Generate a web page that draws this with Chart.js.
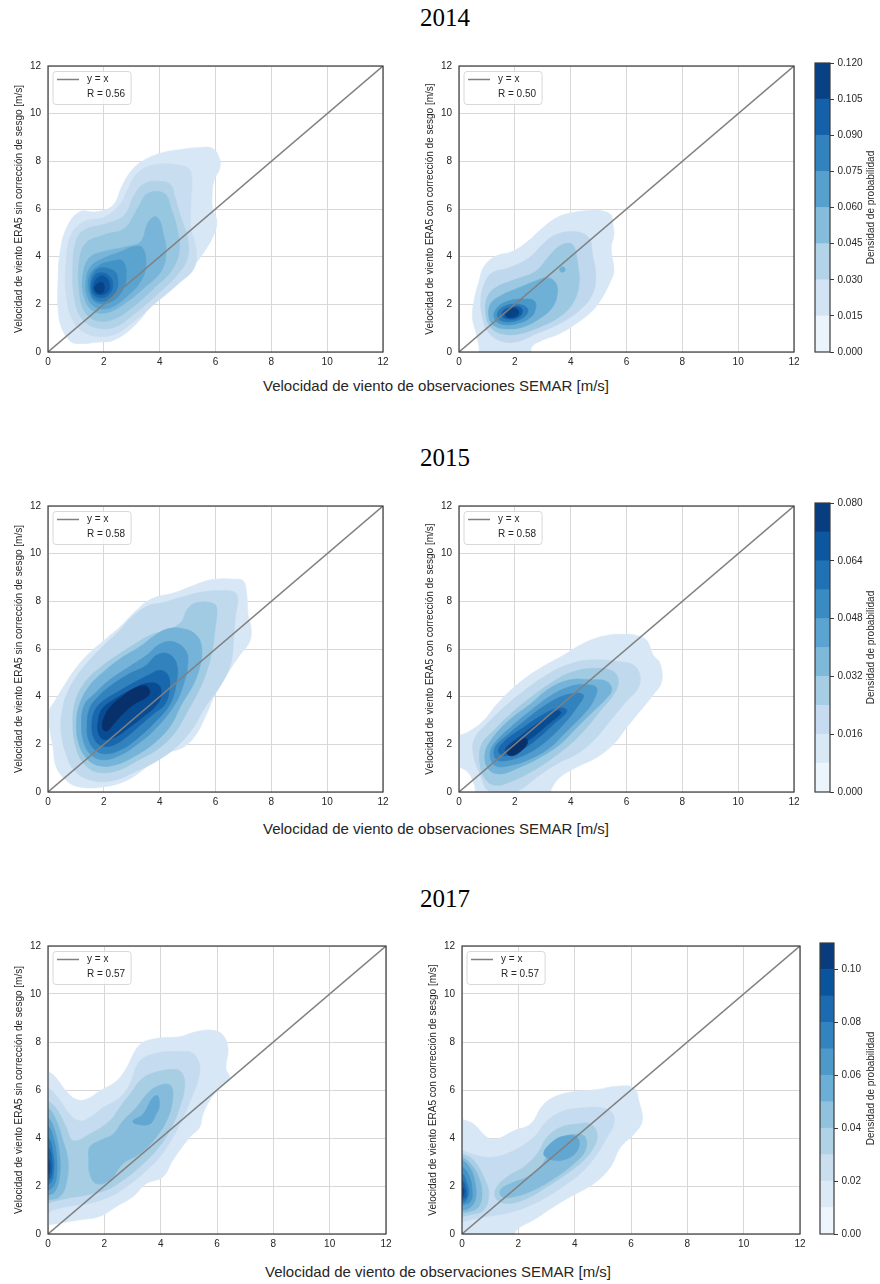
<!DOCTYPE html>
<html>
<head>
<meta charset="utf-8">
<script src="https://cdn.jsdelivr.net/npm/chart.js@4.4.1/dist/chart.umd.min.js"></script>
<style>
  html, body { margin: 0; padding: 0; background: #fff; }
  body { position: relative; width: 880px; height: 1284px; overflow: hidden; }
  canvas { position: absolute; }
  .sup { position: absolute; font-family: 'Liberation Serif', 'DejaVu Serif', serif; font-size: 25px; color: #000;
         transform: translate(-50%, -50%); white-space: nowrap; }
  .xlab { position: absolute; font-family: 'Liberation Sans', Arial, sans-serif; font-size: 15px; color: #262626;
          transform: translate(-50%, -50%); white-space: nowrap; }
</style>
</head>
<body>
<script>
// ---------------- data ----------------
const years = ['2014', '2015', '2017'];
const rSinCorreccion = [0.56, 0.58, 0.57];
const rConCorreccion = [0.50, 0.58, 0.57];

const axisTicks = [0, 2, 4, 6, 8, 10, 12];
const diagX = [0, 12];
const diagY = [0, 12];

const xAxisTitle = 'Velocidad de viento de observaciones SEMAR [m/s]';
const yTitleSin = 'Velocidad de viento ERA5 sin corrección de sesgo [m/s]';
const yTitleCon = 'Velocidad de viento ERA5 con corrección de sesgo [m/s]';
const cbarTitle = 'Densidad de probabilidad';

// colour-bar band edges and tick labels, one set per year
const cbarEdges2014 = [0, 0.015, 0.030, 0.045, 0.060, 0.075, 0.090, 0.105, 0.120];
const cbarTicks2014 = [0, 0.015, 0.030, 0.045, 0.060, 0.075, 0.090, 0.105, 0.120];
const cbarLabels2014 = ['0.000', '0.015', '0.030', '0.045', '0.060', '0.075', '0.090', '0.105', '0.120'];
const cbarEdges2015 = [0, 0.008, 0.016, 0.024, 0.032, 0.040, 0.048, 0.056, 0.064, 0.072, 0.080];
const cbarTicks2015 = [0, 0.016, 0.032, 0.048, 0.064, 0.080];
const cbarLabels2015 = ['0.000', '0.016', '0.032', '0.048', '0.064', '0.080'];
const cbarEdges2017 = [0, 0.01, 0.02, 0.03, 0.04, 0.05, 0.06, 0.07, 0.08, 0.09, 0.10, 0.11];
const cbarTicks2017 = [0, 0.02, 0.04, 0.06, 0.08, 0.10];
const cbarLabels2017 = ['0.00', '0.02', '0.04', '0.06', '0.08', '0.10'];

// KDE filled-contour rings: [level, [[x, y], ...]] in m/s
const kde2014Sin = [
  [1, [[1.01,0.35],[1.85,0.42],[2.33,0.48],[3.04,1.04],[3.76,2.0],[4.6,2.98],[5.2,3.6],[5.65,4.3],[5.95,4.95],[6.05,5.5],[5.9,6.0],[5.88,6.6],[5.95,7.2],[6.15,7.7],[6.15,8.1],[5.9,8.54],[5.43,8.58],[4.84,8.51],[4.12,8.37],[3.52,8.1],[3.04,7.68],[2.66,6.99],[2.33,6.16],[1.73,5.88],[1.13,5.88],[0.66,5.19],[0.42,4.08],[0.36,2.98],[0.36,1.87],[0.48,1.04],[0.78,0.48]]],
  [2, [[3.2,7.5],[2.85,6.8],[2.55,6.15],[2.0,5.65],[1.3,5.47],[0.83,4.92],[0.65,3.81],[0.65,2.42],[0.89,1.32],[1.42,0.76],[2.26,0.69],[2.97,1.18],[3.81,2.01],[4.65,2.84],[5.24,3.53],[5.3,4.36],[5.12,5.19],[5.12,6.3],[5.12,7.55],[4.77,7.82],[3.8,7.85]]],
  [3, [[3.45,7.06],[3.09,6.58],[2.74,5.75],[2.14,5.4],[1.3,5.12],[1.0,4.64],[0.89,3.53],[0.94,2.29],[1.18,1.46],[1.66,1.04],[2.38,1.04],[3.09,1.6],[3.93,2.43],[4.65,3.26],[5.0,3.95],[5.0,4.78],[4.77,5.61],[4.53,6.58],[4.41,6.99],[4.05,7.16]]],
  [4, [[3.57,6.65],[3.21,6.02],[2.74,5.19],[2.02,4.92],[1.36,4.57],[1.12,3.81],[1.12,2.56],[1.3,1.73],[1.72,1.32],[2.38,1.39],[3.09,1.94],[3.81,2.7],[4.41,3.39],[4.7,4.22],[4.65,5.05],[4.41,6.02],[4.17,6.65]]],
  [5, [[3.81,5.68],[3.57,5.4],[3.33,4.64],[2.85,4.43],[2.02,4.22],[1.48,3.95],[1.24,3.12],[1.3,2.29],[1.6,1.73],[2.14,1.66],[2.8,2.08],[3.45,2.7],[4.05,3.39],[4.23,4.22],[4.11,5.05],[3.99,5.54]]],
  [6, [[3.39,4.36],[3.09,4.43],[2.62,4.22],[2.02,3.95],[1.54,3.6],[1.36,2.98],[1.42,2.29],[1.72,1.87],[2.26,1.87],[2.85,2.36],[3.33,2.98],[3.51,3.67]]],
  [7, [[2.68,3.81],[2.26,3.81],[1.78,3.6],[1.48,3.19],[1.48,2.49],[1.72,2.08],[2.2,2.08],[2.62,2.49],[2.8,3.12]]],
  [8, [[2.38,3.39],[1.9,3.53],[1.6,3.25],[1.52,2.7],[1.66,2.22],[2.08,2.15],[2.44,2.56],[2.5,3.05]]],
  [9, [[1.84,3.32],[1.6,3.05],[1.56,2.56],[1.78,2.29],[2.14,2.36],[2.32,2.77],[2.2,3.19]]],
  [10, [[1.9,3.19],[1.66,2.91],[1.68,2.49],[1.96,2.4],[2.2,2.63],[2.14,3.05]]],
  [11, [[1.84,2.91],[1.66,2.7],[1.76,2.49],[1.96,2.49],[2.02,2.73],[1.96,2.91]]]
];

const kde2014Con = [
  [1, [[5.45,5.75],[5.2,5.9],[4.78,5.95],[3.94,5.82],[3.46,5.61],[2.98,5.19],[2.39,4.57],[1.91,4.22],[1.31,4.02],[0.9,3.6],[0.72,2.98],[0.54,2.15],[0.48,1.46],[0.62,0.76],[0.72,0.2],[0.75,-0.3],[2.55,-0.3],[2.6,0.2],[2.98,0.49],[3.58,0.76],[4.18,1.18],[4.78,1.73],[5.13,2.29],[5.4,2.9],[5.55,3.4],[5.45,4.36],[5.55,4.92],[5.5,5.45]]],
  [2, [[4.18,5.05],[3.46,4.92],[2.98,4.5],[2.51,3.95],[1.79,3.53],[1.19,3.32],[0.9,2.84],[0.78,2.15],[0.84,1.46],[1.01,0.9],[1.43,0.49],[2.03,0.42],[2.75,0.76],[3.58,1.18],[4.3,1.73],[4.78,2.42],[4.9,3.25],[4.78,4.09],[4.66,4.78]]],
  [3, [[3.94,4.57],[3.58,4.43],[3.22,4.02],[2.75,3.39],[2.03,3.05],[1.31,2.7],[1.01,2.29],[0.96,1.59],[1.13,1.04],[1.55,0.76],[2.15,0.76],[2.87,1.04],[3.58,1.46],[4.06,2.01],[4.3,2.84],[4.24,3.81],[4.12,4.43]]],
  [4, [[3.16,3.12],[2.75,2.98],[2.15,2.7],[1.49,2.36],[1.13,2.01],[1.07,1.46],[1.25,1.11],[1.67,0.97],[2.27,1.04],[2.87,1.39],[3.34,1.87],[3.52,2.43],[3.46,2.91]]],
  [4, [[3.7,3.58],[3.6,3.48],[3.65,3.36],[3.78,3.38],[3.8,3.5]]],
  [5, [[2.39,2.22],[1.79,2.15],[1.37,1.87],[1.25,1.46],[1.49,1.18],[2.03,1.18],[2.57,1.46],[2.75,1.87],[2.69,2.15]]],
  [6, [[2.03,2.01],[1.55,1.87],[1.37,1.59],[1.49,1.32],[1.97,1.29],[2.39,1.53],[2.45,1.84]]],
  [7, [[1.97,1.9],[1.61,1.76],[1.53,1.53],[1.73,1.39],[2.09,1.43],[2.27,1.67],[2.21,1.87]]],
  [8, [[1.79,1.8],[1.65,1.66],[1.73,1.46],[2.03,1.49],[2.15,1.66],[2.03,1.84]]]
];

const kde2015Sin = [
  [1, [[6.03,8.93],[6.63,8.93],[6.99,8.86],[7.11,8.37],[7.17,7.4],[7.28,6.85],[7.22,6.3],[6.87,5.74],[6.39,4.91],[6.03,4.22],[5.67,3.25],[5.31,2.42],[4.84,1.87],[4.12,1.59],[3.52,1.04],[2.81,0.48],[1.97,0.21],[1.13,0.21],[0.66,0.48],[0.3,1.04],[0.18,1.87],[0.06,2.7],[0.04,3.39],[0.24,3.81],[0.6,4.5],[1.0,5.2],[1.5,5.85],[2.05,6.4],[2.6,6.95],[3.1,7.55],[3.7,8.1],[4.5,8.35],[5.19,8.65],[5.67,8.86]]],
  [2, [[6.68,8.38],[6.2,8.45],[5.48,8.38],[4.77,8.17],[4.17,7.96],[3.57,7.8],[2.97,7.3],[2.5,6.7],[2.0,6.15],[1.5,5.55],[1.05,4.9],[0.75,4.3],[0.55,3.67],[0.47,2.56],[0.65,1.59],[0.95,0.9],[1.54,0.49],[2.38,0.49],[3.21,0.9],[3.93,1.32],[4.65,1.94],[5.2,2.7],[5.65,3.6],[6.2,4.5],[6.55,5.4],[6.65,6.44],[6.72,7.41],[6.8,8.1]]],
  [3, [[5.96,7.89],[5.36,7.96],[5.0,7.68],[4.77,7.13],[4.3,6.8],[3.7,6.6],[3.1,6.2],[2.5,5.75],[1.9,5.25],[1.35,4.65],[0.98,3.81],[0.89,2.84],[1.0,1.87],[1.3,1.18],[1.78,0.83],[2.5,0.9],[3.21,1.32],[3.93,1.8],[4.55,2.5],[5.05,3.5],[5.5,4.5],[5.85,5.75],[6.0,7.0],[6.05,7.6]]],
  [4, [[5.3,6.6],[4.85,6.85],[4.3,6.85],[3.8,6.55],[3.3,6.1],[2.6,5.6],[1.95,5.0],[1.45,4.4],[1.13,3.67],[1.02,2.9],[1.1,2.05],[1.4,1.4],[1.85,1.1],[2.45,1.15],[3.1,1.5],[3.8,2.05],[4.4,2.8],[4.78,3.67],[5.2,4.5],[5.45,5.3],[5.5,6.1]]],
  [5, [[4.95,5.9],[4.5,6.3],[4.0,6.2],[3.55,5.75],[2.9,5.25],[2.2,4.7],[1.65,4.1],[1.31,3.67],[1.2,2.9],[1.28,2.1],[1.55,1.55],[2.0,1.35],[2.6,1.55],[3.25,2.05],[3.85,2.65],[4.54,3.67],[4.85,4.5],[5.0,5.3]]],
  [6, [[4.6,5.4],[4.3,5.8],[3.9,5.75],[3.5,5.3],[2.9,4.95],[2.3,4.5],[1.8,4.0],[1.49,3.5],[1.4,2.8],[1.45,2.2],[1.7,1.75],[2.1,1.6],[2.65,1.8],[3.2,2.25],[3.8,2.9],[4.36,3.67],[4.6,4.6]]],
  [7, [[4.3,4.9],[4.0,5.1],[3.6,4.9],[3.1,4.6],[2.5,4.2],[1.95,3.8],[1.67,3.4],[1.57,2.8],[1.65,2.25],[1.9,1.95],[2.3,1.95],[2.8,2.3],[3.3,2.8],[3.8,3.3],[4.18,3.67],[4.35,4.3]]],
  [8, [[3.95,4.5],[3.5,4.55],[3.0,4.3],[2.4,3.9],[1.95,3.5],[1.8,3.0],[1.8,2.5],[2.0,2.2],[2.4,2.3],[2.9,2.7],[3.4,3.15],[3.85,3.6],[4.05,4.05]]],
  [9, [[3.5,4.45],[3.1,4.35],[2.65,4.0],[2.25,3.6],[2.0,3.1],[1.95,2.7],[2.1,2.55],[2.35,2.85],[2.7,3.3],[3.1,3.7],[3.5,3.95],[3.65,4.2]]]
];

const kde2015Con = [
  [1, [[6.36,6.57],[6.72,6.37],[6.96,5.74],[7.2,5.4],[7.26,4.64],[6.96,4.08],[6.48,3.39],[6.0,2.7],[5.53,2.0],[4.93,1.45],[4.21,1.04],[3.62,0.62],[3.3,0.1],[3.25,-0.3],[0.7,-0.3],[0.55,0.3],[0.3,0.85],[-0.3,1.3],[-0.3,2.2],[0.3,2.5],[0.87,2.98],[1.35,3.67],[2.07,4.5],[2.9,5.19],[3.74,5.74],[4.57,6.3],[5.29,6.57],[5.89,6.62]]],
  [2, [[5.77,5.47],[6.24,5.33],[6.48,4.91],[6.42,4.36],[6.0,3.81],[5.41,2.98],[4.81,2.15],[4.21,1.59],[3.5,1.18],[2.78,0.62],[2.2,0.1],[1.6,-0.1],[1.05,0.05],[0.8,0.6],[0.51,1.59],[0.57,2.28],[0.99,2.84],[1.59,3.53],[2.3,4.22],[3.14,4.91],[3.86,5.33],[4.69,5.54]]],
  [3, [[5.53,5.05],[5.71,4.64],[5.53,4.08],[5.05,3.39],[4.57,2.7],[3.98,2.0],[3.38,1.45],[2.66,0.9],[1.95,0.48],[1.35,0.28],[0.99,0.48],[0.75,1.18],[0.81,2.0],[1.23,2.56],[1.83,3.25],[2.54,3.94],[3.38,4.64],[4.09,5.05],[4.93,5.19]]],
  [4, [[5.29,4.64],[5.47,4.29],[5.29,3.94],[4.81,3.39],[4.21,2.7],[3.62,2.0],[2.9,1.45],[2.18,1.04],[1.47,0.76],[1.05,0.97],[0.93,1.59],[1.17,2.21],[1.77,2.98],[2.54,3.67],[3.26,4.36],[3.98,4.71],[4.69,4.71]]],
  [5, [[4.93,4.36],[4.81,3.81],[4.45,3.25],[3.86,2.56],[3.26,1.87],[2.54,1.38],[1.83,1.11],[1.29,1.11],[1.11,1.59],[1.29,2.07],[1.83,2.7],[2.54,3.39],[3.26,4.02],[3.98,4.43],[4.57,4.5]]],
  [6, [[4.45,4.08],[4.21,3.53],[3.74,2.84],[3.14,2.15],[2.42,1.59],[1.71,1.32],[1.33,1.38],[1.29,1.87],[1.77,2.42],[2.42,3.05],[3.14,3.67],[3.86,4.08]]],
  [7, [[3.86,3.39],[3.38,2.84],[2.78,2.21],[2.18,1.73],[1.65,1.52],[1.41,1.73],[1.65,2.15],[2.3,2.7],[3.02,3.25],[3.62,3.53]]],
  [8, [[3.65,3.3],[3.2,2.85],[2.7,2.35],[2.2,1.95],[1.8,1.68],[1.65,1.72],[1.75,1.95],[2.15,2.3],[2.65,2.75],[3.15,3.15],[3.55,3.42]]],
  [9, [[2.4,2.25],[2.1,2.15],[1.8,1.85],[1.72,1.62],[1.92,1.52],[2.25,1.75],[2.45,2.05]]]
];

const kde2017Sin = [
  [1, [[-0.3,7.0],[0,6.78],[0.24,6.57],[0.65,5.95],[1.0,5.61],[1.36,5.61],[1.83,5.95],[2.42,6.36],[2.78,6.91],[3.25,7.88],[3.84,8.15],[4.67,8.22],[5.26,8.43],[5.85,8.49],[6.21,8.29],[6.39,7.74],[6.32,6.91],[6.44,6.5],[6.09,6.09],[5.73,5.54],[5.5,4.99],[5.38,4.44],[5.03,4.03],[4.43,3.07],[4.08,2.38],[3.49,2.1],[3.01,1.55],[2.42,1.14],[1.83,0.73],[1.12,0.59],[0.41,0.45],[0,0.38],[-0.3,0.35]]],
  [2, [[-0.3,6.2],[0,6.09],[0.35,5.68],[0.77,4.99],[1.12,4.71],[1.48,4.85],[1.95,5.26],[2.54,5.68],[2.9,6.23],[3.25,7.19],[3.84,7.53],[4.67,7.6],[5.14,7.53],[5.38,7.05],[5.32,6.36],[5.14,5.81],[4.85,4.99],[4.43,4.03],[3.96,3.2],[3.37,2.52],[2.78,1.97],[2.19,1.55],[1.48,1.28],[0.65,1.14],[0.18,1.0],[0,0.87],[-0.3,0.8]]],
  [3, [[-0.3,5.6],[0,5.54],[0.35,5.13],[0.65,4.44],[0.89,3.89],[1.48,4.16],[2.19,4.71],[2.54,5.26],[2.9,5.81],[3.37,6.5],[3.96,6.78],[4.55,6.85],[4.79,6.64],[4.85,6.09],[4.67,5.26],[4.32,4.3],[3.84,3.48],[3.25,2.79],[2.66,2.24],[2.07,1.83],[1.36,1.62],[0.65,1.48],[0.18,1.35],[0,1.28],[-0.3,1.25]]],
  [4, [[-0.3,5.3],[0,5.26],[0.3,4.71],[0.53,3.89],[0.71,3.07],[0.65,2.1],[0.41,1.55],[0,1.42],[-0.3,1.4]]],
  [4, [[1.48,3.62],[1.83,3.89],[2.31,4.16],[2.66,4.71],[3.13,5.26],[3.61,5.95],[4.08,6.23],[4.37,6.16],[4.43,5.68],[4.26,4.85],[3.84,4.03],[3.25,3.34],[2.66,2.93],[2.19,2.24],[1.71,2.1],[1.48,2.52],[1.45,3.07]]],
  [5, [[-0.3,4.9],[0,4.85],[0.24,4.3],[0.41,3.34],[0.41,2.38],[0.24,1.76],[0,1.62],[-0.3,1.6]]],
  [5, [[3.01,4.71],[3.37,4.99],[3.72,5.68],[3.9,5.75],[3.95,5.3],[3.84,4.99],[3.61,4.58],[3.13,4.58]]],
  [6, [[-0.3,4.55],[0,4.5],[0.18,4.03],[0.3,3.34],[0.3,2.38],[0.18,1.97],[0,1.83],[-0.3,1.8]]],
  [7, [[-0.3,4.05],[0,4.03],[0.18,3.34],[0.2,2.52],[0.06,2.1],[-0.3,2.0]]],
  [8, [[-0.3,3.65],[0,3.62],[0.12,3.2],[0.13,2.52],[0,2.24],[-0.3,2.2]]],
  [9, [[-0.3,3.2],[0,3.13],[0.07,2.79],[0,2.45],[-0.3,2.4]]]
];

const kde2017Con = [
  [1, [[-0.3,4.85],[0,4.78],[0.41,4.58],[0.89,4.03],[1.24,3.96],[1.84,4.3],[2.43,4.58],[2.9,5.4],[3.49,5.81],[4.21,5.95],[4.8,6.02],[5.51,6.16],[6.1,6.09],[6.28,5.54],[6.4,4.71],[6.1,4.16],[5.63,3.62],[5.27,2.79],[4.68,2.1],[3.85,1.55],[3.26,1.14],[2.55,0.59],[1.95,0.18],[1.72,-0.3],[-0.3,-0.3]]],
  [2, [[-0.3,3.5],[0,3.48],[0.53,3.27],[1.13,3.2],[1.84,3.48],[2.55,4.03],[3.02,4.71],[3.61,5.13],[4.32,5.26],[4.92,5.26],[5.33,5.06],[5.39,4.58],[5.15,4.03],[4.8,3.34],[4.32,2.65],[3.73,2.1],[3.02,1.55],[2.31,1.14],[1.6,0.87],[0.89,0.73],[0.3,0.59],[0,0.52],[-0.3,0.5]]],
  [3, [[1.24,1.97],[1.6,2.38],[2.19,2.79],[2.67,3.34],[3.02,4.03],[3.49,4.44],[4.09,4.58],[4.56,4.58],[4.8,4.16],[4.68,3.62],[4.32,3.07],[3.73,2.52],[3.02,1.97],[2.19,1.42],[1.48,1.28],[1.18,1.55]]],
  [3, [[-0.3,3.4],[0,3.34],[0.41,3.07],[0.77,2.38],[0.95,1.69],[0.77,1.0],[0.3,0.8],[0,0.73],[-0.3,0.7]]],
  [4, [[1.36,1.83],[1.72,2.1],[2.31,2.38],[2.78,2.79],[3.14,3.48],[3.61,4.03],[4.09,4.16],[4.38,4.03],[4.38,3.48],[3.97,2.93],[3.26,2.31],[2.55,1.83],[1.84,1.55],[1.42,1.55]]],
  [4, [[-0.3,3.25],[0,3.2],[0.3,2.93],[0.59,2.38],[0.71,1.69],[0.59,1.14],[0.24,0.93],[0,0.89],[-0.3,0.87]]],
  [5, [[2.9,3.34],[3.26,3.89],[3.73,4.1],[4.09,4.03],[4.15,3.62],[3.85,3.2],[3.26,3.07]]],
  [5, [[-0.3,3.1],[0,3.07],[0.3,2.72],[0.47,2.1],[0.47,1.42],[0.24,1.07],[0,1.0],[-0.3,0.98]]],
  [6, [[-0.3,2.82],[0,2.79],[0.24,2.45],[0.36,1.83],[0.3,1.35],[0,1.21],[-0.3,1.2]]],
  [7, [[-0.3,2.55],[0,2.52],[0.18,2.1],[0.24,1.69],[0.12,1.35],[0,1.31],[-0.3,1.3]]],
  [8, [[-0.3,2.26],[0,2.24],[0.12,1.97],[0.15,1.55],[0,1.44],[-0.3,1.42]]],
  [9, [[-0.3,2.0],[0,1.97],[0.08,1.76],[0,1.55],[-0.3,1.53]]]
];

// ---------------- style helpers ----------------
const BLUES = [[0,'#f7fbff'],[0.125,'#deebf7'],[0.25,'#c6dbef'],[0.375,'#9ecae1'],[0.5,'#6baed6'],
               [0.625,'#4292c6'],[0.75,'#2171b5'],[0.875,'#08519c'],[1,'#08306b']];
function hexRgb(h) { return [1,3,5].map(i => parseInt(h.slice(i, i + 2), 16)); }
function blues(t) {
  t = Math.max(0, Math.min(1, t));
  for (let i = 0; i < BLUES.length - 1; i++) {
    const [t0, c0] = BLUES[i], [t1, c1] = BLUES[i + 1];
    if (t <= t1) {
      const f = (t - t0) / (t1 - t0), a = hexRgb(c0), b = hexRgb(c1);
      return 'rgb(' + a.map((v, k) => Math.round(v + (b[k] - v) * f)).join(',') + ')';
    }
  }
  return BLUES[BLUES.length - 1][1];
}

const FONT = "'Liberation Sans', Arial, sans-serif";
const TEXT = '#262626';
const SPINE = '#3a3a3a';
Chart.defaults.font.family = FONT;
Chart.defaults.font.size = 10;
Chart.defaults.color = TEXT;

// closes each contour ring so the spline wraps smoothly
const closeRings = {
  id: 'closeRings',
  afterDatasetsUpdate(chart) {
    chart.data.datasets.forEach((ds, i) => {
      if (!ds.closedRing) return;
      const line = chart.getDatasetMeta(i).dataset;
      if (!line) return;
      line._loop = true;
      line._fullLoop = true;
      line._pointsUpdated = false;
      line._segments = undefined;
      line._path = undefined;
    });
  }
};

// axes frame (all four spines)
const frame = {
  id: 'frame',
  afterDraw(chart) {
    const { ctx, chartArea: a } = chart;
    ctx.save();
    ctx.strokeStyle = SPINE;
    ctx.lineWidth = 1.2;
    ctx.strokeRect(a.left, a.top, a.right - a.left, a.bottom - a.top);
    ctx.restore();
  }
};

// in-axes legend, upper left
const panelLegend = {
  id: 'panelLegend',
  afterDatasetsDraw(chart, args, opts) {
    const { ctx, chartArea: a } = chart;
    ctx.save();
    ctx.font = '10px ' + FONT;
    const tw = Math.max(...opts.lines.map(t => ctx.measureText(t).width));
    const x0 = a.left + 5, y0 = a.top + 5.5, w = 34 + tw + 6, h = 33;
    ctx.beginPath();
    ctx.roundRect(x0, y0, w, h, 3);
    ctx.fillStyle = 'rgba(255,255,255,0.8)';
    ctx.fill();
    ctx.strokeStyle = '#d8d8d8';
    ctx.lineWidth = 1;
    ctx.stroke();
    ctx.strokeStyle = opts.lineColor;
    ctx.lineWidth = 1.5;
    ctx.beginPath();
    ctx.moveTo(x0 + 4, y0 + 8);
    ctx.lineTo(x0 + 26, y0 + 8);
    ctx.stroke();
    ctx.fillStyle = TEXT;
    ctx.textAlign = 'left';
    ctx.textBaseline = 'middle';
    ctx.fillText(opts.lines[0], x0 + 34, y0 + 8);
    ctx.fillText(opts.lines[1], x0 + 34, y0 + 23);
    ctx.restore();
  }
};

// colour-bar label, reading bottom to top
const cbarLabel = {
  id: 'cbarLabel',
  afterDraw(chart, args, opts) {
    const { ctx, chartArea: a } = chart;
    ctx.save();
    ctx.translate(opts.x, (a.top + a.bottom) / 2);
    ctx.rotate(-Math.PI / 2);
    ctx.font = '10px ' + FONT;
    ctx.fillStyle = TEXT;
    ctx.textAlign = 'center';
    ctx.textBaseline = 'middle';
    ctx.fillText(opts.text, 0, 0);
    ctx.restore();
  }
};

function addCanvas(left, top, w, h) {
  const c = document.createElement('canvas');
  c.width = w; c.height = h;
  c.style.left = left + 'px'; c.style.top = top + 'px';
  c.style.width = w + 'px'; c.style.height = h + 'px';
  document.body.appendChild(c);
  return c;
}

function addText(cls, text, x, y) {
  const d = document.createElement('div');
  d.className = cls;
  d.textContent = text;
  d.style.left = x + 'px';
  d.style.top = y + 'px';
  document.body.appendChild(d);
}

const YAXIS_W = 48, PAD_T = 10, PAD_R = 12, XAXIS_H = 24;

function kdePanel(area, rings, r, yTitle, ramp) {
  const { left, top, width, height } = area;
  const cv = addCanvas(left - YAXIS_W, top - PAD_T, width + YAXIS_W + PAD_R, height + PAD_T + XAXIS_H);
  const nLev = Math.max(...rings.map(d => d[0]));
  const datasets = rings.map(([lev, pts]) => {
    const col = blues(ramp[0] + (lev - 1) * (ramp[1] - ramp[0]) / (nLev - 1));
    return {
      data: pts.map(p => ({ x: p[0], y: p[1] })),
      backgroundColor: col, borderColor: col, borderWidth: 0.6,
      fill: 'shape', pointRadius: 0, pointHoverRadius: 0, tension: 0.4,
      order: 100 - lev, closedRing: true
    };
  });
  datasets.push({
    label: 'y = x',
    data: diagX.map((v, i) => ({ x: v, y: diagY[i] })),
    borderColor: '#808080', borderWidth: 1.5, pointRadius: 0, fill: false, tension: 0, order: 0
  });
  const tickCfg = (pad) => ({ padding: pad, color: TEXT, font: { size: 10 }, maxRotation: 0, autoSkip: false });
  new Chart(cv, {
    type: 'line',
    data: { datasets },
    options: {
      responsive: false, animation: false, events: [],
      layout: { padding: { left: 0, top: PAD_T, right: PAD_R, bottom: 0 } },
      elements: { line: { capBezierPoints: false } },
      plugins: {
        legend: { display: false }, tooltip: { enabled: false },
        panelLegend: { lines: ['y = x', 'R = ' + r.toFixed(2)], lineColor: '#808080' }
      },
      scales: {
        x: {
          type: 'linear', min: 0, max: 12,
          afterBuildTicks: s => { s.ticks = axisTicks.map(v => ({ value: v })); },
          ticks: tickCfg(4),
          grid: { color: '#d8d8d8', lineWidth: 1, drawTicks: false },
          border: { display: false },
          afterFit: s => { s.height = XAXIS_H; }
        },
        y: {
          type: 'linear', min: 0, max: 12,
          afterBuildTicks: s => { s.ticks = axisTicks.map(v => ({ value: v })); },
          ticks: tickCfg(7),
          grid: { color: '#d8d8d8', lineWidth: 1, drawTicks: false },
          border: { display: false },
          title: { display: true, text: yTitle, color: TEXT, font: { size: 10 }, padding: { top: 13, bottom: 0 } },
          afterFit: s => { s.width = YAXIS_W; }
        }
      }
    },
    plugins: [closeRings, panelLegend, frame]
  });
}

function colorBar(area, edges, ticks, labels) {
  const { left, top, width, height } = area;
  const PL = 10, AXW = 50;
  const cvLeft = left - PL;
  const cv = addCanvas(cvLeft, top - PAD_T, PL + width + AXW, height + 2 * PAD_T);
  const n = edges.length - 1;
  const datasets = edges.slice(0, n).map((lo, i) => ({
    data: [[lo, edges[i + 1]]],
    backgroundColor: blues((i + 0.5) / n), borderWidth: 0,
    barPercentage: 1, categoryPercentage: 1, grouped: false
  }));
  new Chart(cv, {
    type: 'bar',
    data: { labels: [''], datasets },
    options: {
      responsive: false, animation: false, events: [],
      layout: { padding: { left: PL, top: PAD_T, right: 0, bottom: PAD_T } },
      plugins: {
        legend: { display: false }, tooltip: { enabled: false },
        cbarLabel: { text: cbarTitle, x: 871.7 - cvLeft }
      },
      scales: {
        x: { display: false },
        y: {
          position: 'right', min: edges[0], max: edges[n],
          afterBuildTicks: s => { s.ticks = ticks.map(v => ({ value: v })); },
          ticks: { padding: 3.5, color: TEXT, font: { size: 10 }, callback: (v, i) => labels[i] },
          grid: { drawOnChartArea: false, drawTicks: true, tickLength: 4, color: SPINE, lineWidth: 1 },
          border: { display: false },
          afterFit: s => { s.width = AXW; }
        }
      }
    },
    plugins: [frame, cbarLabel]
  });
}

// ---------------- figure layout ----------------
const rows = [
  { sup: 17.5, xlab: 385, top: 63, height: 289,
    left: { left: 48, width: 335 }, right: { left: 459, width: 335 }, cbar: { left: 815, width: 15 },
    sin: kde2014Sin, con: kde2014Con, rampSin: [0.16, 0.93], rampCon: [0.16, 0.93],
    edges: cbarEdges2014, ticks: cbarTicks2014, labels: cbarLabels2014, xlabX: 436 },
  { sup: 458, xlab: 828, top: 503, height: 289,
    left: { left: 48, width: 335 }, right: { left: 459, width: 335 }, cbar: { left: 815, width: 15 },
    sin: kde2015Sin, con: kde2015Con, rampSin: [0.16, 1.0], rampCon: [0.16, 1.0],
    edges: cbarEdges2015, ticks: cbarTicks2015, labels: cbarLabels2015, xlabX: 436 },
  { sup: 899, xlab: 1271, top: 943, height: 291,
    left: { left: 48, width: 338 }, right: { left: 462, width: 338 }, cbar: { left: 820, width: 14 },
    sin: kde2017Sin, con: kde2017Con, rampSin: [0.16, 0.9], rampCon: [0.16, 0.9],
    edges: cbarEdges2017, ticks: cbarTicks2017, labels: cbarLabels2017, xlabX: 438 }
];

rows.forEach((row, i) => {
  addText('sup', years[i], 445, row.sup);
  addText('xlab', xAxisTitle, row.xlabX, row.xlab);
  kdePanel({ left: row.left.left, top: row.top, width: row.left.width, height: row.height },
           row.sin, rSinCorreccion[i], yTitleSin, row.rampSin);
  kdePanel({ left: row.right.left, top: row.top, width: row.right.width, height: row.height },
           row.con, rConCorreccion[i], yTitleCon, row.rampCon);
  colorBar({ left: row.cbar.left, top: row.top, width: row.cbar.width, height: row.height },
           row.edges, row.ticks, row.labels);
});
</script>
</body>
</html>
